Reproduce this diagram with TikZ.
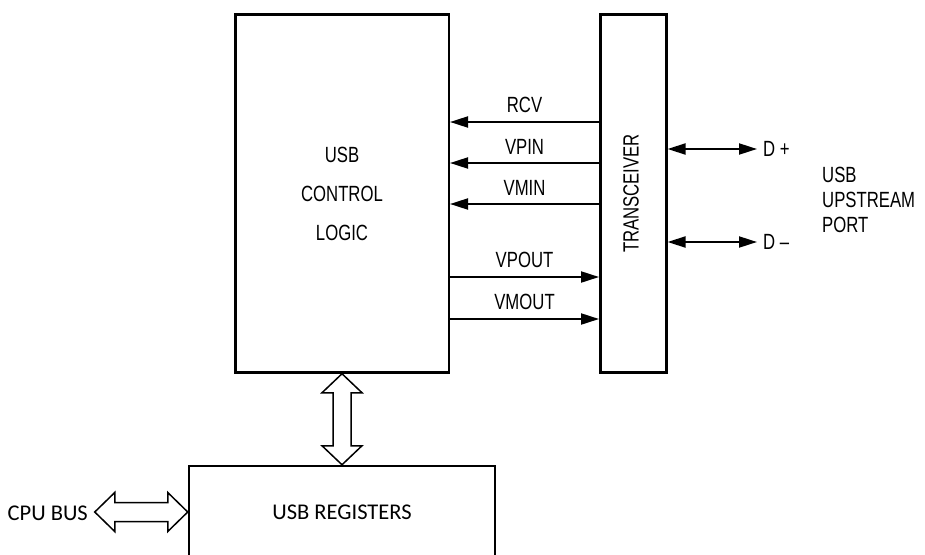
\documentclass[tikz,border=0pt]{standalone}
\usepackage{fontspec}
\newfontfamily\narrowsans[FakeStretch=0.76]{Liberation Sans}
\newfontfamily\calibrisans{Carlito}
\usetikzlibrary{arrows,arrows.meta,positioning,calc}

\begin{document}
\begin{tikzpicture}
		[x=1pt,y=-1pt,
		block/.style={draw,line width=2.5pt,inner sep=0pt},
		txt/.style={font=\narrowsans\fontsize{22}{39}\selectfont},
		txtc/.style={font=\calibrisans\fontsize{22.5}{27}\selectfont},
		sig/.style={line width=2pt,-{Triangle[length=18pt,width=11pt]}},
		sigboth/.style={line width=2pt,{Triangle[length=18pt,width=11pt]}-{Triangle[length=18pt,width=11pt]}},
		bus/.style={draw,line width=1.5pt,fill=white,line join=miter},
		lbl/.style={txt,midway,above,inner sep=8pt}]
		\useasboundingbox (0,0) rectangle (925,554);
		% blocks
		\node[block,txt,align=center,minimum width=213.5pt,minimum height=358pt] (ctrl) at (342,193.5) {USB\\CONTROL\\LOGIC};
		\node[block,minimum width=66pt,minimum height=358pt] (trans) at (633.3,193.5) {};
		\node[txt,rotate=90] (transtxt) at (631,193.5) {TRANSCEIVER};
		\node[block,txtc,minimum width=306pt,minimum height=92pt] (regs) at (342,512) {USB REGISTERS};
		\node[txtc,anchor=east,inner sep=0pt] (cpu) at (88,513) {CPU BUS};
		% signals
		\foreach \yy/\name in {122/RCV,163/VPIN,204/VMIN}
			\draw[sig] (trans.west |- 0,\yy) -- node[lbl]{\name} (ctrl.east |- 0,\yy);
		\foreach \yy/\name in {277/VPOUT,319/VMOUT}
			\draw[sig] (ctrl.east |- 0,\yy) -- node[lbl]{\name} (trans.west |- 0,\yy);
		% upstream port
		\coordinate (dp) at (757,149);
		\coordinate (dm) at (757,242);
		\draw[sigboth] (trans.east |- dp) -- (dp);
		\draw[sigboth] (trans.east |- dm) -- (dm);
		\node[txt,right=6pt of dp,inner sep=0pt] (dptxt) {D +};
		\node[txt,right=6pt of dm,inner sep=0pt] (dmtxt) {D –};
		\node[txt,font=\narrowsans\fontsize{22}{25}\selectfont,align=left,anchor=west,inner sep=0pt] (port) at (822,200) {USB\\UPSTREAM\\PORT};
		% buses
		\draw[bus] (ctrl.south) -- ++(20,19) -- ++(-11,0) -- ($(regs.north)+(9,-19)$) -- ++(11,0)
			-- (regs.north) -- ++(-20,-19) -- ++(11,0) -- ($(ctrl.south)+(-9,19)$) -- ++(-11,0) -- cycle;
		\draw[bus] (regs.west) -- ++(-20,19.5) -- ++(0,-10) -- ++(-53,0) -- ++(0,10) -- ++(-20,-19.5)
			-- ++(20,-19.5) -- ++(0,10) -- ++(53,0) -- ++(0,-10) -- cycle;
\end{tikzpicture}
\end{document}
